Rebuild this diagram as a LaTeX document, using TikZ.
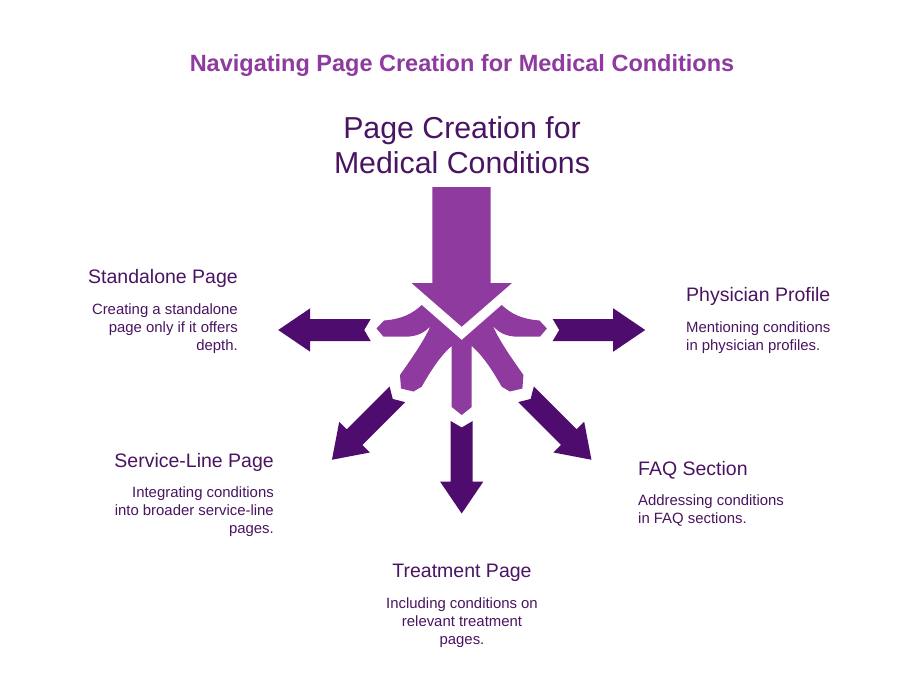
\documentclass[tikz,border=0pt]{standalone}
\usepackage{fontspec}
\setmainfont{Liberation Sans}
\definecolor{lightpurple}{HTML}{8E3A9E}
\definecolor{darkpurple}{HTML}{4D0C6E}
\definecolor{textpurple}{HTML}{4A1462}
\definecolor{titlepurple}{HTML}{8E3A9E}
\tikzset{
  heading/.style={font=\bfseries\fontsize{23.5}{28}\selectfont, text=titlepurple, inner sep=0pt},
  maintext/.style={font=\fontsize{30.3}{36}\selectfont, text=textpurple, inner sep=0pt},
  labeltitle/.style={font=\fontsize{19.5}{23}\selectfont, text=textpurple, inner sep=0pt},
  labeldesc/.style={font=\fontsize{14.9}{18}\selectfont, text=textpurple, inner sep=0pt},
  darkarrow/.style={fill=darkpurple, draw=none},
  lightshape/.style={fill=lightpurple, draw=none}
}
\begin{document}
\begin{tikzpicture}[x=1pt,y=-1pt]
\useasboundingbox (0,0) rectangle (924,696);
\fill[white] (0,0) rectangle (924,696);

% title
\node[heading, anchor=base] (title) at (462,71) {Navigating Page Creation for Medical Conditions};
\node[maintext, anchor=base] (main1) at (462,138) {Page Creation for};
\node[maintext, anchor=base] (main2) at (462,173) {Medical Conditions};

% big down arrow
\path[lightshape] (432.3,187) -- (490.7,187) -- (490.7,283) -- (512,283) -- (461.7,326.7) -- (411.5,283) -- (432.3,283) -- cycle;

% light fan
\path[lightshape] (421.7,305) -- (461.7,340) -- (501.7,305)
  .. controls (511.4,314) and (521.4,319) .. (539.4,320.5) -- (546.9,328.5) -- (539.9,336.7) -- (518.4,336.7)
  .. controls (505.4,336.7) and (498.4,332) .. (492.9,326)
  .. controls (500.4,343) and (514.4,362) .. (523.4,375) -- (522.4,388.5) -- (509.9,391.5) -- (501.7,386.7)
  .. controls (493.4,372) and (483.4,356) .. (471.7,346) -- (471.7,407) -- (461.7,415) -- (451.7,407) -- (451.7,346)
  .. controls (440,356) and (430,372) .. (421.7,386.7) -- (413.5,391.5) -- (401,388.5) -- (400,375)
  .. controls (409,362) and (423,343) .. (430.5,326)
  .. controls (425,332) and (418,336.7) .. (405,336.7) -- (383.5,336.7) -- (376.5,328.5) -- (384,320.5)
  .. controls (402,319) and (412,314) .. cycle;

% dark arrows
\foreach \ang in {180,0,-90,225,-45}{
  \begin{scope}[shift={(461.7,330)}, rotate=\ang]
    \path[darkarrow] (91,-11) -- (151.5,-11) -- (151.5,-21.7) -- (183.5,0) -- (151.5,21.7) -- (151.5,11) -- (91,11) -- (97.5,0) -- cycle;
  \end{scope}
}

% Standalone Page
\node[labeltitle, anchor=base east] (standT) at (238,283) {Standalone Page};
\node[labeldesc, anchor=base east] (standD1) at (238,314) {Creating a standalone};
\node[labeldesc, anchor=base east] (standD2) at (238,332) {page only if it offers};
\node[labeldesc, anchor=base east] (standD3) at (238,350) {depth.};

% Physician Profile
\node[labeltitle, anchor=base west] (physT) at (686,301) {Physician Profile};
\node[labeldesc, anchor=base west] (physD1) at (686,332) {Mentioning conditions};
\node[labeldesc, anchor=base west] (physD2) at (686,350) {in physician profiles.};

% Service-Line Page
\node[labeltitle, anchor=base east] (servT) at (274,467) {Service-Line Page};
\node[labeldesc, anchor=base east] (servD1) at (274,497) {Integrating conditions};
\node[labeldesc, anchor=base east] (servD2) at (274,515) {into broader service-line};
\node[labeldesc, anchor=base east] (servD3) at (274,533) {pages.};

% FAQ Section
\node[labeltitle, anchor=base west] (faqT) at (638,475) {FAQ Section};
\node[labeldesc, anchor=base west] (faqD1) at (638,505) {Addressing conditions};
\node[labeldesc, anchor=base west] (faqD2) at (638,523) {in FAQ sections.};

% Treatment Page
\node[labeltitle, anchor=base] (treatT) at (462,577) {Treatment Page};
\node[labeldesc, anchor=base] (treatD1) at (462,608) {Including conditions on};
\node[labeldesc, anchor=base] (treatD2) at (462,626) {relevant treatment};
\node[labeldesc, anchor=base] (treatD3) at (462,644) {pages.};
\end{tikzpicture}
\end{document}
